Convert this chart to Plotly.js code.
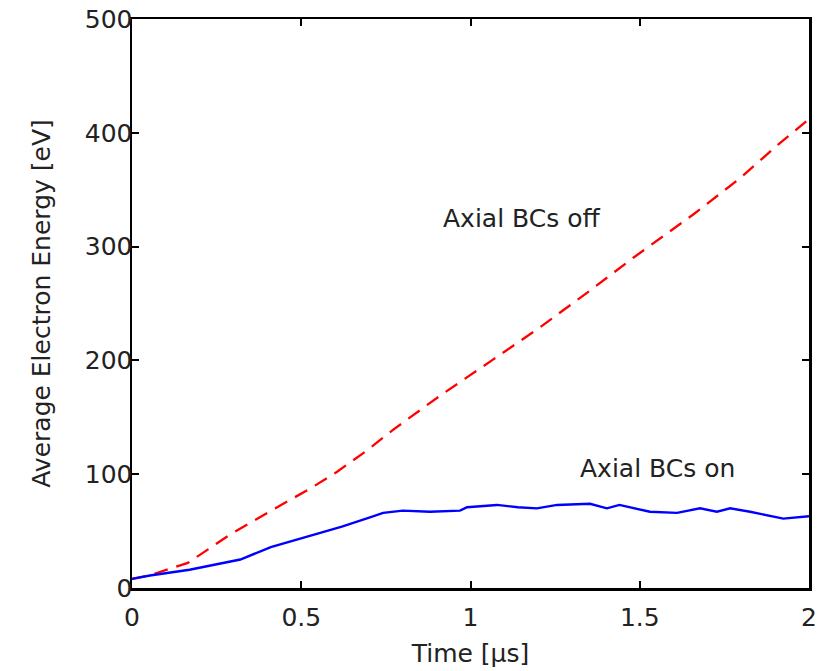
<!DOCTYPE html>
<html>
<head>
<meta charset="utf-8">
<script src="https://cdn.plot.ly/plotly-3.0.1.min.js"></script>
<style>html,body{margin:0;padding:0;background:#fff;}#chart{width:836px;height:671px;}</style>
</head>
<body>
<div id="chart"></div>
<script>
// Axial BCs off (red dashed)
const offTime = [0, 0.05, 0.165, 0.29, 0.417, 0.53, 0.605, 0.69, 0.771, 0.91, 1.063, 1.205, 1.347, 1.48, 1.657, 1.796, 1.914, 2.0];
const offEnergy = [8, 11, 22, 47, 69, 88, 102, 120, 139, 169, 200, 229, 260, 290, 328, 360, 391, 412];
// Axial BCs on (blue solid)
const onTime = [0, 0.053, 0.17, 0.32, 0.41, 0.505, 0.62, 0.703, 0.742, 0.80, 0.88, 0.969, 0.99, 1.078, 1.14, 1.196, 1.256, 1.353, 1.403, 1.44, 1.53, 1.61, 1.678, 1.728, 1.767, 1.826, 1.924, 2.0];
const onEnergy = [8, 11, 16, 25, 36, 44, 54, 62, 66, 68, 67, 68, 71, 73, 71, 70, 73, 74, 70, 73, 67, 66, 70, 67, 70, 67, 61, 63];
const xTicks = [0, 0.5, 1, 1.5, 2];
const xTickText = ['0', '0.5', '1', '1.5', '2'];
const yTicks = [0, 100, 200, 300, 400, 500];
const labels = [
  {text: 'Axial BCs off', x: 1.152, y: 325},
  {text: 'Axial BCs on', x: 1.551, y: 105}
];

const font = {family: 'DejaVu Sans, Liberation Sans, sans-serif', size: 25, color: '#222'};

const traces = [
  {x: offTime, y: offEnergy, mode: 'lines', line: {color: '#ff0000', width: 2.3, dash: '14px,9px'}, hoverinfo: 'skip'},
  {x: onTime, y: onEnergy, mode: 'lines', line: {color: '#0000ff', width: 2.4}, hoverinfo: 'skip'}
];

const axisCommon = {
  showline: true, linecolor: '#000', linewidth: 2.5, mirror: 'ticks',
  ticks: 'inside', ticklen: 7, tickwidth: 2, tickcolor: '#000',
  showgrid: false, zeroline: false, tickfont: font
};

const layout = {
  width: 836, height: 671,
  margin: {l: 132, r: 27, t: 19, b: 83},
  paper_bgcolor: '#fff', plot_bgcolor: '#fff',
  showlegend: false,
  font: font,
  xaxis: Object.assign({}, axisCommon, {
    range: [0, 2], tickvals: xTicks, ticktext: xTickText,
    ticklabelstandoff: 5,
    title: {text: 'Time [µs]', font: font, standoff: 14}
  }),
  yaxis: Object.assign({}, axisCommon, {
    range: [0, 500], tickvals: yTicks,
    ticklabelstandoff: -8,
    title: {text: 'Average Electron Energy [eV]', font: font, standoff: 27}
  }),
  annotations: labels.map(l => ({
    text: l.text, x: l.x, y: l.y, xref: 'x', yref: 'y',
    showarrow: false, font: font, xanchor: 'center', yanchor: 'middle'
  }))
};

Plotly.newPlot('chart', traces, layout, {staticPlot: true, displayModeBar: false});
</script>
</body>
</html>
